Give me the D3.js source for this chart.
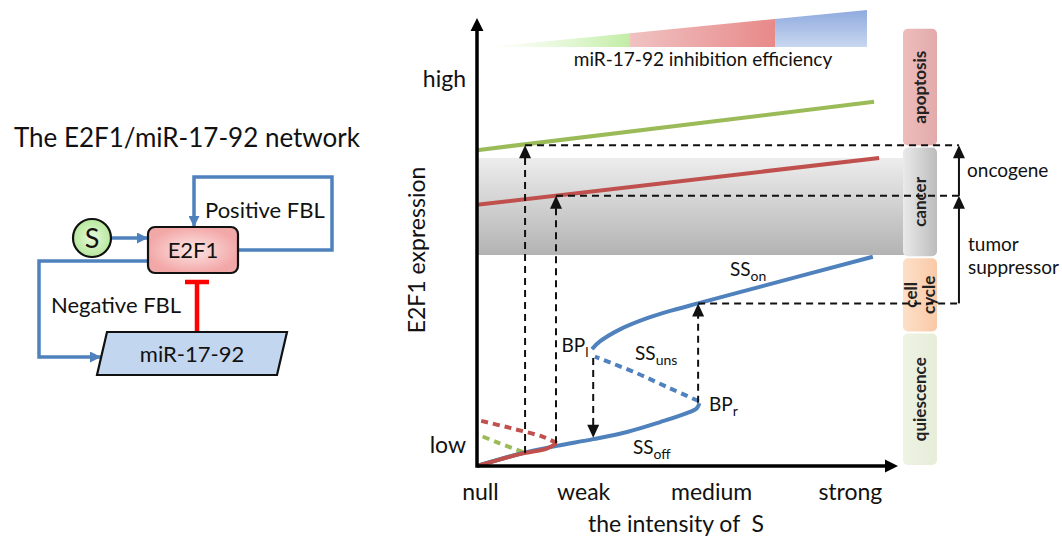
<!DOCTYPE html>
<html>
<head>
<meta charset="utf-8">
<script src="https://cdn.jsdelivr.net/npm/d3@7"></script>
<style>
  body { margin: 0; background: #fff; }
  svg { display: block; font-family: Lato, "Open Sans", sans-serif; }
</style>
</head>
<body>
<script>
// ---- data (S intensity 0..100, E2F1 level 0..100) ----
const sTickLabels = ["null", "weak", "medium", "strong"];
const sTickValues = [0.7, 25.4, 56, 89.2];
const levelTickLabels = ["low", "high"];
const levelTickValues = [4.7, 86.4];

// blue: bistable E2F1 curve
const ssOff = [[0, 0], [11, 2.9], [19.1, 4.5], [27.8, 6.0], [35.9, 7.6], [43.8, 9.8], [50.2, 11.8], [52.6, 12.9], [53.2, 14.0]];
const ssUns = [[53.0, 14.5], [46, 17.4], [38, 20.8], [28.2, 24.4]];
const ssOn = [[27.5, 26.1], [29.4, 27.8], [34.2, 30.5], [40.7, 33.0], [46.9, 34.8], [53.3, 36.4], [62.9, 38.8], [94.7, 46.7]];
// red: weaker miR inhibition
const redOff = [[0, 0], [10.5, 2.7], [16.7, 3.9], [19.1, 5.1]];
const redUns = [[19.1, 5.1], [15.8, 6.5], [7.9, 8.5], [0, 10.3]];
const redOn = [[0, 58.3], [96.2, 68.75]];
// green: weakest miR inhibition
const greenOff = [[0, 0], [11, 3.0]];
const greenUns = [[11, 3.1], [5, 5.2], [0, 7.1]];
const greenOn = [[0, 70.5], [95, 81.3]];

// transitions (S, from level, to level)
const jumps = [
  { s: 11.5, from: 2.9, to: 71.6 },
  { s: 18.9, from: 5.1, to: 60.3 },
  { s: 52.9, from: 14.1, to: 36.3 },
  { s: 27.8, from: 24.1, to: 6.3 }
];
const guideLevels = [71.6, 60.3, 36.3];
const guideStarts = [11.5, 18.9, 52.9];
const guideEnd = 115.3;

const cancerBand = [47.1, 68.75];
const cancerBandEnd = 102.4;

const phaseNames = ["quiescence", "cell cycle", "cancer", "apoptosis"];
const phaseBounds = [0, 29.8, 46.6, 71.3, 97.8];

const wedgeStops = [2.4, 36.6, 71.3, 93.3];
const wedgeBase = 93.5, wedgeTop = 101.8;

// ---- layout ----
const W = 1062, H = 540;
const x = d3.scaleLinear().domain([0, 100]).range([477, 895]);
const y = d3.scaleLinear().domain([0, 100]).range([466, 18]);
const blue = "#4f81bd", red = "#c0504d", green = "#9bbb59";

const svg = d3.select("body").append("svg").attr("width", W).attr("height", H);
const defs = svg.append("defs");

function grad(id, stops, x2 = 1, y2 = 0) {
  const g = defs.append("linearGradient").attr("id", id)
    .attr("x1", 0).attr("y1", 0).attr("x2", x2).attr("y2", y2);
  stops.forEach((c, i) => g.append("stop").attr("offset", i / (stops.length - 1)).attr("stop-color", c[0]).attr("stop-opacity", c[1] ?? 1));
}
grad("gGreen", [["#d8f5c4", 0], ["#c2eda5"]]);
grad("gRed", [["#f0c2c2"], ["#e88989"]]);
grad("gBlue", [["#8eaade"], ["#c9d7f0"]], 0, 1);
grad("gBand", [["#ededed"], ["#b3b3b3"]], 0, 1);
grad("gCancer", [["#eaeaea"], ["#bcbcbc"]]);
grad("gApop", [["#eebcbc"], ["#e3aaaa"]]);
grad("gCell", [["#fde0c8"], ["#f9c9a6"]]);
grad("gQui", [["#eef3e4"], ["#e6edd8"]]);
const rg = defs.append("radialGradient").attr("id", "gE2F1");
rg.append("stop").attr("offset", 0).attr("stop-color", "#fde6e6");
rg.append("stop").attr("offset", 1).attr("stop-color", "#f3a8a8");
const rs = defs.append("radialGradient").attr("id", "gS");
rs.append("stop").attr("offset", 0).attr("stop-color", "#e8fadb");
rs.append("stop").attr("offset", 1).attr("stop-color", "#b6e79c");

defs.append("marker").attr("id", "blueHead").attr("viewBox", "0 0 10 10")
  .attr("refX", 10).attr("refY", 5).attr("markerWidth", 11).attr("markerHeight", 11)
  .attr("markerUnits", "userSpaceOnUse").attr("orient", "auto")
  .append("path").attr("d", "M0,0L10,5L0,10Z").attr("fill", blue);

// ---- left: network diagram ----
const net = svg.append("g").style("font-size", "22px").attr("fill", "#111");
net.append("text").attr("x", 187).attr("y", 147).attr("text-anchor", "middle")
  .style("font-size", "26px").text("The E2F1/miR-17-92 network");

const loops = [
  "M238,250H332V177H194V227",
  "M148,261H39V357H101",
  "M111,238H148"
];
net.selectAll("path.loop").data(loops).join("path").attr("class", "loop")
  .attr("d", d => d).attr("fill", "none").attr("stroke", blue).attr("stroke-width", 3.5)
  .attr("marker-end", "url(#blueHead)");

net.append("path").attr("d", "M197,331V282M185,282H209")
  .attr("stroke", "#ff0000").attr("stroke-width", 4.5).attr("fill", "none");

net.append("rect").attr("x", 148).attr("y", 227).attr("width", 90).attr("height", 46).attr("rx", 7)
  .attr("fill", "url(#gE2F1)").attr("stroke", "#111").attr("stroke-width", 2.2);
net.append("text").attr("x", 193).attr("y", 258).attr("text-anchor", "middle").text("E2F1");

net.append("circle").attr("cx", 92).attr("cy", 238).attr("r", 19)
  .attr("fill", "url(#gS)").attr("stroke", "#111").attr("stroke-width", 2.2);
net.append("text").attr("x", 92).attr("y", 248).attr("text-anchor", "middle").style("font-size", "27px").text("S");

net.append("path").attr("d", "M107,332H287L277,375H97Z")
  .attr("fill", "#c3d6ef").attr("stroke", "#111").attr("stroke-width", 2.2);
net.append("text").attr("x", 192).attr("y", 362).attr("text-anchor", "middle").text("miR-17-92");

net.append("text").attr("x", 205).attr("y", 218).text("Positive FBL");
net.append("text").attr("x", 51).attr("y", 313).text("Negative FBL");

// ---- right: bifurcation chart ----
const plot = svg.append("g");

// miR inhibition wedge
const wedgeY = s => wedgeBase + (wedgeTop - wedgeBase) * (s - wedgeStops[0]) / (wedgeStops[3] - wedgeStops[0]);
const wedgeFills = ["url(#gGreen)", "url(#gRed)", "url(#gBlue)"];
plot.selectAll("path.wedge").data(d3.pairs(wedgeStops)).join("path").attr("class", "wedge")
  .attr("d", ([a, b]) => `M${x(a)},${y(wedgeBase)}L${x(a)},${y(wedgeY(a))}L${x(b)},${y(wedgeY(b))}L${x(b)},${y(wedgeBase)}Z`)
  .attr("fill", (d, i) => wedgeFills[i]);
plot.append("text").attr("x", 703).attr("y", 66).attr("text-anchor", "middle")
  .style("font-size", "19px").attr("fill", "#111").text("miR-17-92 inhibition efficiency");

// cancer band
plot.append("rect").attr("x", x(0)).attr("y", y(cancerBand[1]))
  .attr("width", x(cancerBandEnd) - x(0)).attr("height", y(cancerBand[0]) - y(cancerBand[1]))
  .attr("fill", "url(#gBand)");

// phase column
const phaseFills = ["url(#gQui)", "url(#gCell)", "url(#gCancer)", "url(#gApop)"];
const phases = plot.selectAll("g.phase").data(phaseNames).join("g").attr("class", "phase");
phases.append("rect")
  .attr("x", 903).attr("width", 34)
  .attr("y", (d, i) => y(phaseBounds[i + 1]) + 1)
  .attr("height", (d, i) => y(phaseBounds[i]) - y(phaseBounds[i + 1]) - 2)
  .attr("rx", 5).attr("fill", (d, i) => phaseFills[i]);
phases.append("text")
  .attr("transform", (d, i) => `translate(920,${(y(phaseBounds[i]) + y(phaseBounds[i + 1])) / 2}) rotate(-90)`)
  .attr("text-anchor", "middle").style("font-size", "17px").style("font-weight", "700").attr("fill", "#222")
  .each(function (d) {
    const parts = d.split(" ");
    const t = d3.select(this);
    parts.forEach((p, j) => t.append("tspan").attr("x", 0)
      .attr("y", (j - (parts.length - 1) / 2) * 18 + 6).text(p));
  });

// curves
const line = d3.line().x(d => x(d[0])).y(d => y(d[1])).curve(d3.curveCatmullRom);
const curves = [
  { pts: greenOn, c: green, dash: null },
  { pts: greenUns, c: green, dash: "7,5" },
  { pts: greenOff, c: green, dash: null },
  { pts: ssOff, c: blue, dash: null },
  { pts: ssUns, c: blue, dash: "7,5" },
  { pts: ssOn, c: blue, dash: null },
  { pts: redOn, c: red, dash: null },
  { pts: redUns, c: red, dash: "7,5" },
  { pts: redOff, c: red, dash: null }
];
plot.selectAll("path.curve").data(curves).join("path").attr("class", "curve")
  .attr("d", d => line(d.pts)).attr("fill", "none")
  .attr("stroke", d => d.c).attr("stroke-width", 4)
  .attr("stroke-dasharray", d => d.dash);

// dashed guides and jumps
const dash = plot.append("g").attr("stroke", "#111").attr("stroke-width", 2).attr("stroke-dasharray", "7,5").attr("fill", "none");
dash.selectAll("line.guide").data(guideLevels).join("line").attr("class", "guide")
  .attr("x1", (d, i) => x(guideStarts[i])).attr("x2", x(guideEnd))
  .attr("y1", d => y(d)).attr("y2", d => y(d));
dash.selectAll("line.jump").data(jumps).join("line").attr("class", "jump")
  .attr("x1", d => x(d.s)).attr("x2", d => x(d.s))
  .attr("y1", d => y(d.from)).attr("y2", d => y(d.to) + (d.to > d.from ? 10 : -10));
plot.selectAll("path.jumpHead").data(jumps).join("path").attr("class", "jumpHead")
  .attr("d", d => {
    const tx = x(d.s), ty = y(d.to), k = d.to > d.from ? 1 : -1;
    return `M${tx},${ty}L${tx - 6},${ty + 13 * k}L${tx + 6},${ty + 13 * k}Z`;
  }).attr("fill", "#111");

// role arrows on the right
const roles = [
  { from: guideLevels[1], to: guideLevels[0] },
  { from: guideLevels[2], to: guideLevels[1] }
];
const rx = x(guideEnd);
plot.selectAll("path.role").data(roles).join("path").attr("class", "role")
  .attr("d", d => `M${rx},${y(d.from)}V${y(d.to) + 10}`).attr("stroke", "#111").attr("stroke-width", 2);
plot.selectAll("path.roleHead").data(roles).join("path").attr("class", "roleHead")
  .attr("d", d => `M${rx},${y(d.to)}L${rx - 6},${y(d.to) + 13}L${rx + 6},${y(d.to) + 13}Z`).attr("fill", "#111");
const ann = plot.append("g").style("font-size", "19px").attr("fill", "#111");
ann.append("text").attr("x", 967).attr("y", 177).text("oncogene");
ann.append("text").attr("x", 968).attr("y", 251).text("tumor");
ann.append("text").attr("x", 968).attr("y", 274).text("suppressor");

// curve labels
const cl = plot.append("g").style("font-size", "19px").attr("fill", "#111");
const curveLabels = [
  { t: "BP", sub: "l", at: [20.2, 25.5] },
  { t: "SS", sub: "uns", at: [37.8, 23.6] },
  { t: "BP", sub: "r", at: [55.5, 12.3] },
  { t: "SS", sub: "off", at: [37.3, 2.6] },
  { t: "SS", sub: "on", at: [60.5, 42.5] }
];
curveLabels.forEach(d => {
  const t = cl.append("text").attr("x", x(d.at[0])).attr("y", y(d.at[1]));
  t.append("tspan").text(d.t);
  t.append("tspan").attr("dy", 5).style("font-size", "14px").text(d.sub);
});

// axes
const xAxis = d3.axisBottom(x).tickValues(sTickValues).tickFormat((d, i) => sTickLabels[i]).tickSize(0).tickPadding(18);
const yAxis = d3.axisLeft(y).tickValues(levelTickValues).tickFormat((d, i) => levelTickLabels[i]).tickSize(0).tickPadding(11);
const gx = svg.append("g").attr("transform", `translate(0,${y(0)})`).call(xAxis);
const gy = svg.append("g").attr("transform", `translate(${x(0)},0)`).call(yAxis);
[gx, gy].forEach(g => {
  g.select(".domain").remove();
  g.selectAll("text").style("font-size", "23px").style("font-family", "Lato, 'Open Sans', sans-serif").attr("fill", "#111");
});

const axisG = svg.append("g");
axisG.append("path").attr("d", `M${x(0)},${y(0)}H${x(100) - 8}M${x(0)},${y(0) + 1.75}V${y(100) + 10}`)
  .attr("stroke", "#000").attr("stroke-width", 3.5).attr("fill", "none");
axisG.append("path").attr("d", `M${x(100) + 3},${y(0)}l-13,-6.5v13Z M${x(0)},${y(100)}l-6.5,13h13Z`).attr("fill", "#000");

svg.append("text").attr("x", 676).attr("y", 532).attr("text-anchor", "middle")
  .style("font-size", "23px").style("white-space", "pre").attr("fill", "#111").text("the intensity of  S");
svg.append("text").attr("transform", "translate(425,250) rotate(-90)").attr("text-anchor", "middle")
  .style("font-size", "23px").attr("fill", "#111").text("E2F1 expression");
</script>
</body>
</html>
